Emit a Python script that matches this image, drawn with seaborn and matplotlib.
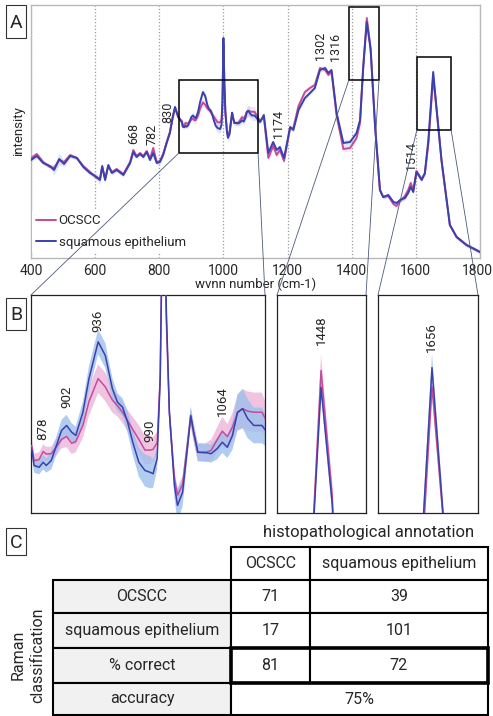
import numpy as np
import pandas as pd
import matplotlib
matplotlib.use("Agg")
import matplotlib.pyplot as plt
import matplotlib.transforms as mtransforms
import seaborn as sns
from matplotlib.patches import Rectangle, ConnectionPatch

# ---------------- data ----------------
wavenumber = [400, 418, 438, 459, 472, 488, 503, 522, 543, 563, 584, 605, 615, 622, 631, 641, 652, 667, 688, 709,
              719, 729, 740, 750, 761, 771, 781, 792, 802, 812, 823, 833, 842, 849, 859,
              871, 873, 878, 882, 885, 890, 895, 900, 905, 910, 914, 921, 927, 936, 943, 950, 955, 960, 965, 970,
              976, 982, 987, 990, 994, 997, 1000, 1003, 1006, 1011, 1014, 1019, 1024, 1027, 1030, 1034, 1040,
              1047, 1053, 1058, 1063, 1068, 1073, 1078, 1083, 1089, 1097,
              1114, 1126, 1140, 1155, 1166, 1176, 1189, 1208, 1218, 1234, 1254, 1270, 1285, 1301, 1317, 1327,
              1337, 1353, 1374, 1395, 1415, 1426, 1436, 1447, 1459, 1473, 1488, 1498, 1514, 1530, 1540, 1551,
              1566, 1576, 1584, 1592, 1602, 1618, 1628, 1639, 1654, 1665, 1680, 1706, 1727, 1758, 1800]

squamous_mean = [98, 102, 95, 92, 88, 99, 94, 102, 100, 91, 85, 81, 78, 92, 78, 93, 85, 88, 83, 95,
                 106, 101, 104, 101, 106, 98, 105, 95, 96, 103, 115, 125, 141, 151, 141,
                 135.5, 131.3, 130.8, 132.2, 131.3, 132.7, 136.9, 141.1, 142.5, 140.6, 139.7, 146.2, 155.6, 165.9,
                 162.1, 152.8, 149.0, 147.6, 143.4, 137.8, 132.2, 129.9, 129.4, 129.0, 133.2, 155.6, 220, 175,
                 146.2, 125.7, 120.1, 123.8, 136.9, 145.3, 140.6, 135.0, 135.0, 134.6, 136.0, 137.8, 136.4, 139.7,
                 146.2, 147.2, 144.4, 142.5, 142.5,
                 136, 143, 105, 116, 108, 111, 100, 131, 128, 148, 160, 165, 170, 188, 190, 185, 188, 145, 115,
                 116, 125, 138, 191, 236, 208, 131, 68, 61, 63, 56, 55, 58, 60, 65, 71, 66, 86, 78, 85, 118, 186,
                 148, 98, 33, 21, 13, 6]

ocscc_mean = [100, 104, 96, 91, 90, 98, 96, 103, 100, 92, 86, 80, 79, 91, 79, 92, 86, 89, 84, 96,
              108, 102, 105, 102, 107, 99, 110, 96, 97, 104, 116, 126, 141, 150, 141,
              136.5, 132.6, 133.0, 135.2, 134.5, 134.6, 136.5, 138.6, 139.4, 137.5, 138.0, 142.5, 149.2, 155.6,
              153.3, 149.6, 148.0, 146.2, 143.8, 141.4, 138.6, 135.6, 135.6, 135.8, 137.7, 156.0, 214, 172,
              146.0, 127.6, 123.0, 126.0, 138.0, 145.0, 140.0, 135.0, 134.8, 135.5, 138.5, 140.9, 139.4, 142.0,
              146.0, 147.2, 146.5, 146.2, 146.2,
              137, 141, 100, 112, 103, 108, 97, 130, 130, 152, 166, 170, 173, 190, 188, 183, 186, 142, 109,
              110, 120, 135, 192, 240, 210, 131, 68, 61, 62, 54, 52, 57, 62, 68, 75, 68, 87, 79, 84, 114, 181,
              147, 97, 33, 21, 13, 6]

squamous_sd = [2, 2, 2, 2, 5, 6, 3, 2, 2, 2, 2, 3, 4, 3, 3, 2, 2, 2, 2, 2,
               3, 2, 2, 2, 2, 2, 3, 2, 2, 2, 2, 2, 3, 3, 2,
               2, 2, 2, 2, 2, 2.5, 2.5, 3, 3, 2.5, 2.5, 3, 3.5, 3.5, 3.5, 3, 2.5, 2.5, 3, 3.5,
               4, 4.5, 4.5, 4, 3, 3, 3, 3, 3, 3.5, 4.5, 4, 3, 2.5, 2.5, 2.5, 2.5, 2.5, 3, 3,
               3, 4, 5, 5.5, 5.5, 5, 5,
               2, 2, 2, 2, 2, 2, 2, 2, 2, 2, 2, 2, 2, 2, 2, 2, 2, 2, 3, 3,
               2, 2, 2, 1.5, 2, 2, 2, 2, 2, 2, 2, 2, 2, 2, 2, 2, 2, 2, 2, 3,
               3.7, 3, 2, 2, 2, 2, 2]

ocscc_sd = [2, 2, 2, 2, 3, 3, 2, 2, 2, 2, 2, 2, 2, 2, 2, 2, 2, 2, 2, 2,
            3, 2, 2, 2, 2, 2, 4, 2, 2, 2, 2, 2, 3, 3, 2,
            2, 2, 2, 2, 2, 2, 2.5, 2.5, 3, 3, 3, 3.5, 4, 4, 4, 3.5, 3, 3, 3, 3.5,
            4, 4, 4, 3.5, 3, 3, 3, 3, 3, 2.5, 2, 2.5, 2.5, 2.5, 2.5, 2.5, 2.5, 3, 3.5, 4,
            3.5, 4, 5, 5.5, 5.5, 5.5, 5.5,
            2, 2, 3, 3, 3, 3, 3, 2, 2, 3, 3, 3, 3, 2, 2, 2, 2, 2, 3, 3,
            2, 2, 3, 3.8, 3, 2, 2, 2, 2, 3, 3, 2, 3, 3, 3, 3, 2, 2, 2, 2.5,
            2, 2.5, 2, 2, 2, 2, 2]

tissues = ["OCSCC", "squamous epithelium"]
peaks_A = ["668", "782", "830", "1174", "1302", "1316", "1514"]
peaks_B = ["878", "902", "936", "990", "1064"]
peak_mid = "1448"
peak_right = "1656"
xticks_A = [400, 600, 800, 1000, 1200, 1400, 1600, 1800]

# table (panel C)
col_labels = ["OCSCC", "squamous epithelium"]
row_labels = ["OCSCC", "squamous epithelium", "% correct", "accuracy"]
counts = [[71, 39], [17, 101]]
pct_correct = [81, 72]
accuracy = 75

# ---------------- style ----------------
sns.set_theme(style="white")
plt.rcParams['font.family'] = ['Roboto', 'DejaVu Sans']

W, H = 493, 716
fig = plt.figure(figsize=(W / 100, H / 100), dpi=100)


def rect(l, t, r, b):
    return [l / W, 1 - b / H, (r - l) / W, (b - t) / H]


BLUE = "#3b40ad"
PINK = "#c24c9c"
BLUE_BAND = "#9cc0ec"
PINK_BAND = "#eaa9d3"

wn = np.array(wavenumber, float)
sq = np.array(squamous_mean, float)
oc = np.array(ocscc_mean, float)
sqsd = np.array(squamous_sd, float)
ocsd = np.array(ocscc_sd, float)

df = pd.DataFrame({
    "wavenumber": list(wn) * 2,
    "intensity": list(oc) + list(sq),
    "tissue": [tissues[0]] * len(wn) + [tissues[1]] * len(wn),
})

ov = fig.add_axes([0, 0, 1, 1], zorder=0)
ov.set_xlim(0, W)
ov.set_ylim(H, 0)
ov.axis("off")


def draw(ax, lw, band_alpha, legend):
    ax.fill_between(wn, oc - ocsd, oc + ocsd, color=PINK_BAND, alpha=band_alpha * 0.85, lw=0, zorder=1)
    ax.fill_between(wn, sq - sqsd, sq + sqsd, color=BLUE_BAND, alpha=band_alpha, lw=0, zorder=1.1)
    sns.lineplot(data=df, x="wavenumber", y="intensity", hue="tissue", hue_order=tissues,
                 palette={tissues[0]: PINK, tissues[1]: BLUE}, estimator=None, lw=lw,
                 ax=ax, legend=legend, zorder=3)


# ---------------- panel A ----------------
axA = fig.add_axes(rect(31, 5, 480, 258), zorder=2)
draw(axA, 1.4, 0.35, True)
axA.set_xlim(400, 1800)
axA.set_ylim(0, 253)
axA.set_xticks(xticks_A)
axA.set_xticklabels([str(t) for t in xticks_A], fontsize=10)
axA.set_yticks([])
axA.tick_params(axis="x", length=0, pad=4)
axA.grid(axis="x", linestyle=":", color="#9a9a9a", lw=0.9)
for s in axA.spines.values():
    s.set_color("#b8b8b8")
    s.set_linewidth(1.0)
last = axA.get_xticklabels()[-1]
last.set_transform(last.get_transform() + mtransforms.ScaledTranslation(-3 / 100, 0, fig.dpi_scale_trans))
axA.set_xlabel("wvnn number (cm-1)", fontsize=9.5, labelpad=0)
axA.set_ylabel("intensity", fontsize=9.5, labelpad=4)
leg = axA.legend(loc="lower left", bbox_to_anchor=(-0.012, -0.005), frameon=True, facecolor="white",
                 edgecolor="none", framealpha=1, fontsize=9.5, handlelength=1.5, handletextpad=0.2,
                 labelspacing=0.65, borderpad=0.3)
leg.set_zorder(6)

pos_A = [(719, 125), (776, 124), (825, 146), (1172, 134), (1304, 212), (1348, 211), (1587, 102)]
for lab, (x, y) in zip(peaks_A, pos_A):
    axA.text(x, y, lab, rotation=90, ha="center", va="center", fontsize=9, zorder=5)

boxes = [(861, 105, 1108, 178), (1391, 178, 1485, 251), (1603, 128, 1710, 201)]
for (x0, y0, x1, y1) in boxes:
    axA.add_patch(Rectangle((x0, y0), x1 - x0, y1 - y0, fill=False, ec="black", lw=1.1, zorder=5))

# ---------------- panel B ----------------
axB1 = fig.add_axes(rect(31, 295, 265, 513), zorder=2)
axB2 = fig.add_axes(rect(277, 295, 366, 513), zorder=2)
axB3 = fig.add_axes(rect(378, 295, 478, 513), zorder=2)
limits = [((870, 1100), (118, 179)), ((1400, 1495), (206, 258)), ((1600, 1700), (148, 205))]
for ax, (xl, yl) in zip([axB1, axB2, axB3], limits):
    draw(ax, 1.1, 0.8, False)
    ax.set_xlim(*xl)
    ax.set_ylim(*yl)
    ax.set_xticks([])
    ax.set_yticks([])
    ax.set_xlabel("")
    ax.set_ylabel("")
    for s in ax.spines.values():
        s.set_color("#222222")
        s.set_linewidth(0.9)

pos_B = [(882, 141.6), (905, 150.4), (936, 171.9), (987, 141.1), (1058, 149.4)]
for lab, (x, y) in zip(peaks_B, pos_B):
    axB1.text(x, y, lab, rotation=90, ha="center", va="center", fontsize=9.5, zorder=5)
axB2.text(1447.7, 249.7, peak_mid, rotation=90, ha="center", va="center", fontsize=9.5, zorder=5)
axB3.text(1653.7, 193.9, peak_right, rotation=90, ha="center", va="center", fontsize=9.5, zorder=5)

# connectors from zoom boxes to insets
for (x0, y0, x1, y1), axb in zip(boxes, [axB1, axB2, axB3]):
    for xa, xb in [(x0, 0), (x1, 1)]:
        con = ConnectionPatch(xyA=(xa, y0), coordsA=axA.transData, xyB=(xb, 1), coordsB=axb.transAxes,
                              color="#4b5a78", lw=0.6, zorder=7)
        fig.add_artist(con)

# ---------------- panel letters ----------------
for letter, (l, t, r, b) in zip("ABC", [(6, 5, 26, 38), (6, 298, 26, 330), (6, 528, 26, 555)]):
    ov.add_patch(Rectangle((l, t), r - l, b - t, fill=True, fc="white", ec="#333333", lw=0.8))
    ov.text((l + r) / 2, (t + b) / 2 + 1, letter, ha="center", va="center", fontsize=14)

# ---------------- panel C: table ----------------
cx = [53, 231, 310, 488]
hy = [547, 580]
ry = [580, 613, 648, 683, 715]
LW = 1.5
FS = 11.5

ov.text((cx[1] + cx[3]) / 2 + 9, 533, "histopathological annotation", ha="center", va="center", fontsize=12)
for j, lab in enumerate(col_labels):
    ov.add_patch(Rectangle((cx[j + 1], hy[0]), cx[j + 2] - cx[j + 1], hy[1] - hy[0], fc="white", ec="black", lw=LW))
    ov.text((cx[j + 1] + cx[j + 2]) / 2, (hy[0] + hy[1]) / 2, lab, ha="center", va="center", fontsize=FS)

for i, lab in enumerate(row_labels):
    t, b = ry[i], ry[i + 1]
    ov.add_patch(Rectangle((cx[0], t), cx[1] - cx[0], b - t, fc="#f1f1f1", ec="black", lw=LW))
    ov.text((cx[0] + cx[1]) / 2, (t + b) / 2, lab, ha="center", va="center", fontsize=FS)
    if i < 2:
        vals = counts[i]
    elif i == 2:
        vals = pct_correct
    else:
        vals = None
    if vals is not None:
        for j, v in enumerate(vals):
            ov.add_patch(Rectangle((cx[j + 1], t), cx[j + 2] - cx[j + 1], b - t, fc="white", ec="black", lw=LW))
            ov.text((cx[j + 1] + cx[j + 2]) / 2, (t + b) / 2, str(v), ha="center", va="center", fontsize=FS)
    else:
        ov.add_patch(Rectangle((cx[1], t), cx[3] - cx[1], b - t, fc="white", ec="black", lw=LW))
        ov.text((cx[1] + cx[3]) / 2, (t + b) / 2, f"{accuracy}%", ha="center", va="center", fontsize=FS)

ov.add_patch(Rectangle((cx[1], ry[2]), cx[3] - cx[1], ry[3] - ry[2], fill=False, ec="black", lw=2.6, zorder=3))

ov.text(28, 655, "Raman\nclassification", rotation=90, ha="center", va="center", fontsize=FS,
        linespacing=1.4, multialignment="center")

fig.savefig("out.png", dpi=100)
